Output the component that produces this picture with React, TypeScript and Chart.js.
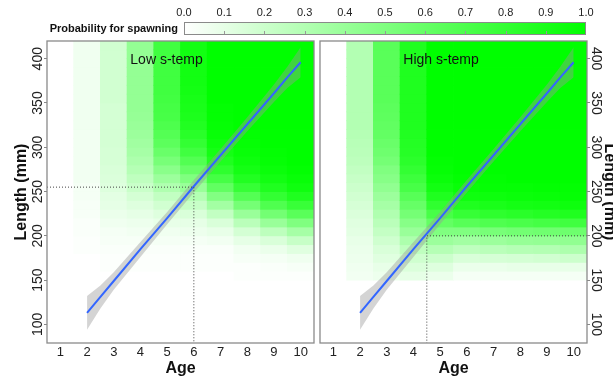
import React, { useEffect, useRef } from 'react';
import { Chart, registerables } from 'chart.js';

Chart.register(...registerables);

// ---------- data ----------
const ages = [1, 2, 3, 4, 5, 6, 7, 8, 9, 10];
// lower edges of the 10 mm length bins (150-160 ... 410-420)
const lengthBins = [150, 160, 170, 180, 190, 200, 210, 220, 230, 240, 250, 260, 270, 280, 290, 300, 310, 320, 330, 340, 350, 360, 370, 380, 390, 400, 410];
const binWidth = 10;
const lengthTicks = [100, 150, 200, 250, 300, 350, 400];
const colorbarTicks = [0, 0.1, 0.2, 0.3, 0.4, 0.5, 0.6, 0.7, 0.8, 0.9, 1.0];

// probability for spawning, one row per age (1..10), one value per length bin
const lowTempProb: number[][] = [
  [0, 0, 0, 0, 0, 0, 0, 0, 0, 0, 0, 0, 0, 0, 0, 0, 0, 0, 0, 0, 0, 0, 0, 0, 0, 0, 0],
  [0, 0, 0, 0.01, 0.01, 0.02, 0.02, 0.03, 0.03, 0.04, 0.04, 0.05, 0.05, 0.05, 0.05, 0.05, 0.05, 0.06, 0.06, 0.06, 0.06, 0.06, 0.06, 0.06, 0.06, 0.06, 0.06],
  [0, 0.01, 0.01, 0.02, 0.03, 0.04, 0.06, 0.08, 0.1, 0.11, 0.13, 0.14, 0.15, 0.16, 0.16, 0.17, 0.17, 0.17, 0.17, 0.17, 0.18, 0.18, 0.18, 0.18, 0.18, 0.18, 0.18],
  [0, 0.01, 0.01, 0.02, 0.03, 0.05, 0.07, 0.1, 0.13, 0.17, 0.21, 0.25, 0.29, 0.32, 0.35, 0.37, 0.39, 0.4, 0.41, 0.42, 0.42, 0.42, 0.42, 0.42, 0.42, 0.42, 0.42],
  [0, 0.01, 0.01, 0.02, 0.04, 0.06, 0.09, 0.13, 0.18, 0.24, 0.31, 0.39, 0.46, 0.53, 0.59, 0.64, 0.67, 0.7, 0.72, 0.73, 0.74, 0.75, 0.75, 0.75, 0.75, 0.75, 0.75],
  [0, 0.01, 0.01, 0.02, 0.04, 0.07, 0.1, 0.15, 0.22, 0.3, 0.4, 0.5, 0.6, 0.68, 0.75, 0.8, 0.84, 0.87, 0.89, 0.9, 0.91, 0.92, 0.93, 0.93, 0.93, 0.93, 0.93],
  [0, 0.01, 0.01, 0.02, 0.05, 0.09, 0.15, 0.24, 0.36, 0.49, 0.62, 0.73, 0.82, 0.88, 0.92, 0.95, 0.97, 0.98, 0.99, 0.99, 1, 1, 1, 1, 1, 1, 1],
  [0.01, 0.01, 0.03, 0.05, 0.1, 0.17, 0.27, 0.4, 0.54, 0.67, 0.79, 0.87, 0.92, 0.95, 0.97, 0.98, 0.99, 1, 1, 1, 1, 1, 1, 1, 1, 1, 1],
  [0.01, 0.02, 0.04, 0.08, 0.15, 0.26, 0.4, 0.55, 0.69, 0.8, 0.88, 0.93, 0.96, 0.98, 0.99, 1, 1, 1, 1, 1, 1, 1, 1, 1, 1, 1, 1],
  [0.01, 0.03, 0.06, 0.12, 0.22, 0.35, 0.5, 0.65, 0.78, 0.88, 0.94, 0.97, 0.99, 1, 1, 1, 1, 1, 1, 1, 1, 1, 1, 1, 1, 1, 1],
];

const highTempProb: number[][] = [
  [0, 0, 0, 0, 0, 0, 0, 0, 0, 0, 0, 0, 0, 0, 0, 0, 0, 0, 0, 0, 0, 0, 0, 0, 0, 0, 0],
  [0.05, 0.06, 0.07, 0.08, 0.09, 0.11, 0.12, 0.14, 0.16, 0.18, 0.2, 0.22, 0.24, 0.26, 0.27, 0.28, 0.29, 0.3, 0.3, 0.3, 0.3, 0.3, 0.3, 0.3, 0.3, 0.3, 0.3],
  [0.07, 0.09, 0.12, 0.15, 0.19, 0.23, 0.27, 0.31, 0.35, 0.39, 0.43, 0.47, 0.5, 0.54, 0.57, 0.59, 0.61, 0.62, 0.63, 0.64, 0.65, 0.65, 0.65, 0.65, 0.65, 0.65, 0.65],
  [0.1, 0.14, 0.19, 0.25, 0.32, 0.4, 0.47, 0.54, 0.6, 0.66, 0.72, 0.76, 0.8, 0.83, 0.85, 0.86, 0.87, 0.88, 0.88, 0.88, 0.88, 0.88, 0.88, 0.88, 0.88, 0.88, 0.88],
  [0.08, 0.13, 0.2, 0.29, 0.39, 0.5, 0.61, 0.72, 0.81, 0.88, 0.93, 0.96, 0.98, 0.99, 1, 1, 1, 1, 1, 1, 1, 1, 1, 1, 1, 1, 1],
  [0.04, 0.08, 0.15, 0.25, 0.36, 0.5, 0.66, 0.79, 0.88, 0.94, 0.97, 0.99, 1, 1, 1, 1, 1, 1, 1, 1, 1, 1, 1, 1, 1, 1, 1],
  [0.04, 0.08, 0.16, 0.27, 0.39, 0.53, 0.69, 0.82, 0.9, 0.95, 0.98, 0.99, 1, 1, 1, 1, 1, 1, 1, 1, 1, 1, 1, 1, 1, 1, 1],
  [0.04, 0.09, 0.17, 0.29, 0.41, 0.55, 0.71, 0.84, 0.92, 0.96, 0.98, 1, 1, 1, 1, 1, 1, 1, 1, 1, 1, 1, 1, 1, 1, 1, 1],
  [0.04, 0.09, 0.18, 0.3, 0.42, 0.56, 0.73, 0.86, 0.93, 0.97, 0.99, 1, 1, 1, 1, 1, 1, 1, 1, 1, 1, 1, 1, 1, 1, 1, 1],
  [0.04, 0.09, 0.2, 0.32, 0.43, 0.57, 0.75, 0.88, 0.95, 0.98, 0.99, 1, 1, 1, 1, 1, 1, 1, 1, 1, 1, 1, 1, 1, 1, 1, 1],
];

// fitted length-at-age with confidence band
const fitAges = [2, 2.5, 3, 4, 5, 6, 7, 8, 9, 9.5, 10];
const fitLength = [113, 131, 149, 185, 220, 256, 291, 326, 361, 379, 396];
const fitLower = [94, 118, 139, 176, 213, 249, 284, 318, 351, 367, 379];
const fitUpper = [132, 144, 159, 193, 227, 263, 298, 334, 371, 391, 413];

// 50% reference points
const lowRefAge = 6;
const lowRefLength = 255;
const highRefAge = 4.5;
const highRefLength = 200;

// axis ranges
const xMin = 0.5;
const xMax = 10.5;
const yMin = 79;
const yMax = 420;

// ---------- helpers ----------
const FONT = "'Liberation Sans', Arial, Helvetica, sans-serif";
Chart.defaults.font.family = FONT;
Chart.defaults.color = '#222';

function probColor(p: number): string {
  const c = Math.round(255 * (1 - p));
  return `rgb(${c},255,${c})`;
}

const panelDecor = {
  id: 'panelDecor',
  afterDatasetsDraw(chart: any, _args: any, opts: any) {
    const { ctx, scales } = chart;
    ctx.save();
    ctx.font = `14px ${FONT}`;
    ctx.fillStyle = '#111';
    ctx.textAlign = 'left';
    ctx.textBaseline = 'middle';
    ctx.fillText(opts.text, scales.x.getPixelForValue(opts.age), scales.y.getPixelForValue(opts.length));
    ctx.restore();
  },
  afterDraw(chart: any) {
    const { ctx, chartArea: a } = chart;
    ctx.save();
    ctx.strokeStyle = '#8a8a8a';
    ctx.lineWidth = 1.3;
    ctx.strokeRect(a.left, a.top, a.right - a.left, a.bottom - a.top);
    ctx.restore();
  },
};

const cbTicks = {
  id: 'cbTicks',
  afterDatasetsDraw(chart: any) {
    const { ctx, chartArea: a, scales } = chart;
    ctx.save();
    ctx.strokeStyle = '#999';
    ctx.lineWidth = 1;
    colorbarTicks.forEach((t) => {
      if (t > 0 && t < 1) {
        const px = Math.round(scales.x.getPixelForValue(t)) + 0.5;
        ctx.beginPath();
        ctx.moveTo(px, a.bottom - 1);
        ctx.lineTo(px, a.bottom - 4);
        ctx.stroke();
      }
    });
    ctx.restore();
  },
};

function makePanel(prob: number[][], refPath: { x: number; y: number }[], label: string, side: 'left' | 'right') {
  const cells: any[] = [];
  const colors: string[] = [];
  ages.forEach((age, i) => {
    lengthBins.forEach((lo, j) => {
      cells.push({ x: age, y: [lo, lo + binWidth] });
      colors.push(probColor(prob[i][j]));
    });
  });
  const isLeft = side === 'left';
  return {
    type: 'bar',
    data: {
      datasets: [
        {
          type: 'bar',
          data: cells,
          backgroundColor: colors,
          borderWidth: 0,
          barPercentage: 1,
          categoryPercentage: 1,
          inflateAmount: 0.4,
          order: 10,
        },
        {
          type: 'line',
          data: fitAges.map((a, i) => ({ x: a, y: fitLower[i] })),
          borderColor: 'rgba(0,0,0,0)',
          pointRadius: 0,
          tension: 0,
          fill: false,
          order: 5,
        },
        {
          type: 'line',
          data: fitAges.map((a, i) => ({ x: a, y: fitUpper[i] })),
          borderColor: 'rgba(0,0,0,0)',
          backgroundColor: 'rgba(153,153,153,0.42)',
          pointRadius: 0,
          tension: 0,
          fill: '-1',
          order: 5,
        },
        {
          type: 'line',
          data: fitAges.map((a, i) => ({ x: a, y: fitLength[i] })),
          borderColor: '#3366FF',
          borderWidth: 2,
          pointRadius: 0,
          tension: 0,
          fill: false,
          order: 2,
        },
        {
          type: 'line',
          data: refPath,
          borderColor: '#444',
          borderWidth: 1,
          borderDash: [1, 2],
          pointRadius: 0,
          tension: 0,
          fill: false,
          order: 1,
        },
      ],
    },
    options: {
      responsive: false,
      animation: false,
      events: [],
      layout: { padding: isLeft ? { top: 41, right: 3, left: 0, bottom: 0 } : { top: 41, left: 3, right: 0, bottom: 0 } },
      plugins: {
        legend: { display: false },
        tooltip: { enabled: false },
        panelDecor: { text: label, age: 3.62, length: 398 },
      },
      scales: {
        x: {
          type: 'linear',
          min: xMin,
          max: xMax,
          offset: false,
          afterBuildTicks: (s: any) => {
            s.ticks = ages.map((v) => ({ value: v }));
          },
          afterFit: (s: any) => {
            s.height = 35;
          },
          grid: { display: false, drawTicks: false },
          border: { display: false },
          ticks: { autoSkip: false, maxRotation: 0, padding: 1.4, font: { size: 13 }, color: '#222' },
          title: { display: true, text: 'Age', font: { size: 16, weight: 'bold' }, color: '#111', padding: { top: 0, bottom: 0 } },
        },
        y: {
          type: 'linear',
          position: isLeft ? 'left' : 'right',
          min: yMin,
          max: yMax,
          afterBuildTicks: (s: any) => {
            s.ticks = lengthTicks.map((v) => ({ value: v }));
          },
          afterFit: (s: any) => {
            s.width = isLeft ? 47 : 50;
          },
          grid: { display: true, drawOnChartArea: false, drawTicks: true, tickLength: 3, color: '#888' },
          border: { display: false },
          ticks: {
            minRotation: isLeft ? 90 : -90,
            maxRotation: isLeft ? 90 : -90,
            crossAlign: 'center',
            padding: -6,
            font: { size: 14 },
            color: '#222',
          },
          title: {
            display: true,
            text: 'Length (mm)',
            font: { size: 16, weight: 'bold' },
            color: '#111',
            padding: { top: isLeft ? 12.4 : 18.4, bottom: 0 },
          },
        },
      },
    },
    plugins: [panelDecor],
  };
}

function makeColorbar() {
  return {
    type: 'bar',
    data: {
      labels: ['Probability for spawning'],
      datasets: [
        {
          data: [[0, 1]],
          backgroundColor: (c: any) => {
            const chart = c.chart;
            if (!chart.chartArea) return '#ffffff';
            const xs = chart.scales.x;
            const g = chart.ctx.createLinearGradient(xs.getPixelForValue(0), 0, xs.getPixelForValue(1), 0);
            colorbarTicks.forEach((t) => g.addColorStop(t, probColor(t)));
            return g;
          },
          borderColor: '#8a8a8a',
          borderWidth: 1,
          borderSkipped: false,
          barPercentage: 1,
          categoryPercentage: 1,
          inflateAmount: 0,
        },
      ],
    },
    options: {
      indexAxis: 'y',
      responsive: false,
      animation: false,
      events: [],
      layout: { padding: { top: 0, right: 27, bottom: 25, left: 0 } },
      plugins: { legend: { display: false }, tooltip: { enabled: false } },
      scales: {
        x: {
          type: 'linear',
          position: 'top',
          min: 0,
          max: 1,
          afterBuildTicks: (s: any) => {
            s.ticks = colorbarTicks.map((v) => ({ value: v }));
          },
          afterFit: (s: any) => {
            s.height = 22;
          },
          grid: { display: false, drawTicks: false },
          border: { display: false },
          ticks: {
            autoSkip: false,
            maxRotation: 0,
            padding: 2.4,
            font: { size: 11 },
            color: '#222',
            callback: (v: any) => Number(v).toFixed(1),
          },
        },
        y: {
          type: 'category',
          afterFit: (s: any) => {
            s.width = 184;
          },
          grid: { display: false, drawTicks: false },
          border: { display: false },
          ticks: { padding: 6, font: { size: 11, weight: 'bold' }, color: '#111' },
        },
      },
    },
    plugins: [cbTicks],
  };
}

export default function App() {
  const leftRef = useRef<HTMLCanvasElement>(null);
  const rightRef = useRef<HTMLCanvasElement>(null);
  const cbRef = useRef<HTMLCanvasElement>(null);

  useEffect(() => {
    const charts: Chart[] = [];
    if (leftRef.current) {
      charts.push(
        new Chart(
          leftRef.current,
          makePanel(
            lowTempProb,
            [
              { x: xMin, y: lowRefLength },
              { x: lowRefAge, y: lowRefLength },
              { x: lowRefAge, y: yMin },
            ],
            'Low s-temp',
            'left'
          ) as any
        )
      );
    }
    if (rightRef.current) {
      charts.push(
        new Chart(
          rightRef.current,
          makePanel(
            highTempProb,
            [
              { x: xMax, y: highRefLength },
              { x: highRefAge, y: highRefLength },
              { x: highRefAge, y: yMin },
            ],
            'High s-temp',
            'right'
          ) as any
        )
      );
    }
    if (cbRef.current) {
      charts.push(new Chart(cbRef.current, makeColorbar() as any));
    }
    return () => charts.forEach((c) => c.destroy());
  }, []);

  return (
    <div
      style={{
        position: 'fixed',
        left: 0,
        top: 0,
        width: 613,
        height: 378,
        overflow: 'hidden',
        background: '#ffffff',
      }}
    >
      <canvas ref={leftRef} width={317} height={378} style={{ position: 'absolute', left: 0, top: 0, width: 317, height: 378 }} />
      <canvas ref={rightRef} width={320} height={378} style={{ position: 'absolute', left: 317, top: 0, width: 320, height: 378 }} />
      <canvas ref={cbRef} width={613} height={60} style={{ position: 'absolute', left: 0, top: 0, width: 613, height: 60 }} />
    </div>
  );
}
